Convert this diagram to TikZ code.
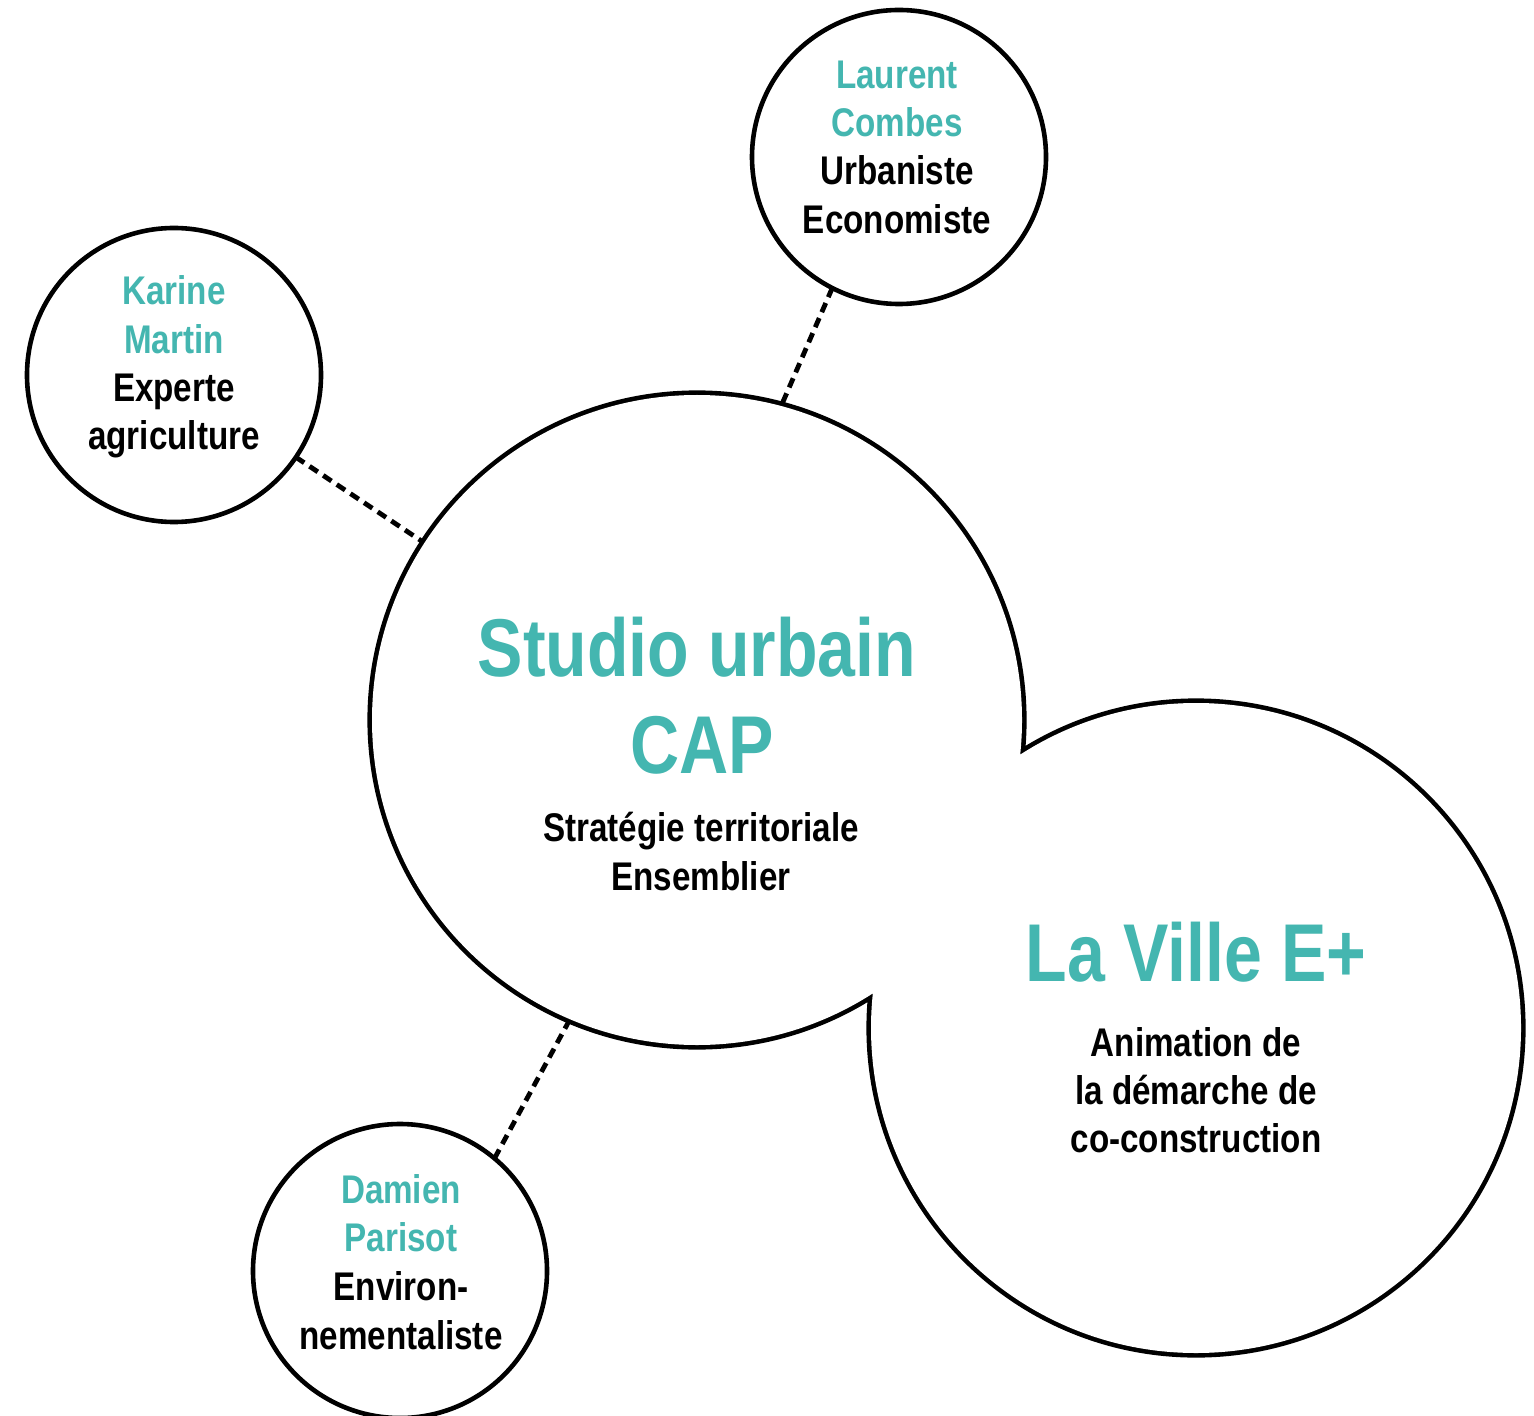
\documentclass[tikz,border=0pt]{standalone}
\usepackage{fontspec}
\setmainfont{Liberation Sans}[FakeStretch=0.83]
\definecolor{teal1}{RGB}{68,182,176}
\begin{document}
\begin{tikzpicture}[x=0.5pt,y=-0.5pt,
 smallc/.style={circle,draw=black,line width=2.3pt,fill=white,minimum size=147pt,inner sep=0pt,outer sep=0pt},
 bigc/.style={circle,minimum size=325pt,inner sep=0pt,outer sep=0pt},
 link/.style={line width=2.4pt,dash pattern=on 5pt off 3.2pt},
 pname/.style={font=\bfseries\fontsize{20}{24}\selectfont,text=teal1,anchor=base,inner sep=0pt},
 prole/.style={font=\bfseries\fontsize{20}{24}\selectfont,text=black,anchor=base,inner sep=0pt},
 ttl/.style={font=\bfseries\fontsize{41}{48}\selectfont,text=teal1,anchor=base,inner sep=0pt}]
\useasboundingbox[fill=white] (0,0) rectangle (1534,1416);
% anchor nodes
\node[bigc] (studio) at (697,720) {};
\node[bigc] (ville) at (1196,1028) {};
\node[smallc] (karine) at (174,375) {};
\node[smallc] (laurent) at (899,157) {};
\node[smallc] (damien) at (400,1271) {};
% connectors
\draw[link] (karine.326.5) -- (studio.147);
\draw[link] (laurent.243.3) -- (studio.75.7);
\draw[link] (damien.50.7) -- (studio.247.1);
% union outline of the two big circles
\draw[line width=4.6pt] (studio.center) circle[radius=162.5pt] (ville.center) circle[radius=162.5pt];
\fill[white] (studio.center) circle[radius=162.5pt] (ville.center) circle[radius=162.5pt];
% Karine
\node[pname] (k1) at (174,305) {Karine};
\node[pname] (k2) at (174,354) {Martin};
\node[prole] (k3) at (174,402) {Experte};
\node[prole] (k4) at (174,450) {agriculture};
% Laurent
\node[pname] (l1) at (897,89) {Laurent};
\node[pname] (l2) at (897,137) {Combes};
\node[prole] (l3) at (897,185) {Urbaniste};
\node[prole] (l4) at (897,234) {Economiste};
% Damien
\node[pname] (d1) at (401,1203) {Damien};
\node[pname] (d2) at (401,1251) {Parisot};
\node[prole] (d3) at (401,1300) {Environ-};
\node[prole] (d4) at (401,1349) {nementaliste};
% Studio
\node[ttl] (s1) at (697,676) {Studio urbain};
\node[ttl] (s2) at (702,773) {CAP};
\node[prole] (s3) at (701,841) {Stratégie territoriale};
\node[prole] (s4) at (701,890) {Ensemblier};
% La Ville
\node[ttl] (v1) at (1196,981) {La Ville E+};
\node[prole] (v2) at (1196,1056) {Animation de};
\node[prole] (v3) at (1196,1104) {la démarche de};
\node[prole] (v4) at (1196,1152) {co-construction};
\end{tikzpicture}
\end{document}
